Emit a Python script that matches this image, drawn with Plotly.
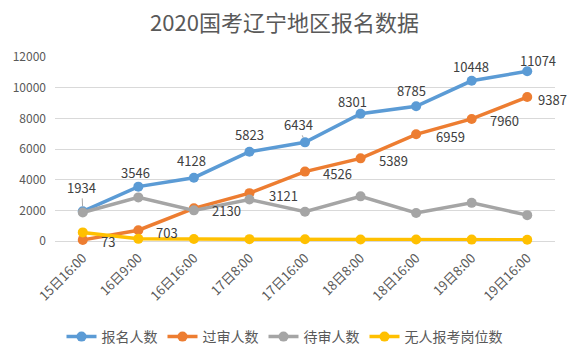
import plotly.graph_objects as go

categories = ["15日16:00", "16日9:00", "16日16:00", "17日8:00", "17日16:00",
              "18日8:00", "18日16:00", "19日8:00", "19日16:00"]
applicants = [1934, 3546, 4128, 5823, 6434, 8301, 8785, 10448, 11074]
approved = [73, 703, 2130, 3121, 4526, 5389, 6959, 7960, 9387]
pending = [1861, 2843, 1998, 2702, 1908, 2912, 1826, 2488, 1687]
no_applicant_posts = [560, 140, 130, 120, 110, 100, 95, 90, 85]

series_names = ["报名人数", "过审人数", "待审人数", "无人报考岗位数"]
colors = ["#5B9BD5", "#ED7D31", "#A5A5A5", "#FFC000"]

# label offsets (pixels) for the data labels
blue_dx = [-1, -3, -2, 0, -7, -8, -5, -1, 11]
blue_dy = [24, 14, 17, 17, 18, 12, 16, 14, 11]
orange_dx = [16, 16, 16, 18, 16, 16, 18, 16, 9]

font_family = "Noto Sans CJK SC, Microsoft YaHei, sans-serif"
label_font = dict(size=13, color="#404040", family=font_family)

fig = go.Figure()
for name, vals, col in zip(series_names,
                           [applicants, approved, pending, no_applicant_posts],
                           colors):
    fig.add_trace(go.Scatter(
        x=categories, y=vals, name=name, mode="lines+markers",
        line=dict(color=col, width=3.5), marker=dict(size=10, color=col),
        cliponaxis=False,
    ))

annotations = []
for i, (c, v) in enumerate(zip(categories, applicants)):
    if i in (0, 4):
        annotations.append(dict(
            x=c, y=v, text=str(v), showarrow=True, arrowhead=0, arrowwidth=1,
            arrowcolor="#A6A6A6", ax=blue_dx[i], ay=-blue_dy[i], standoff=5,
            font=label_font, xref="x", yref="y"))
    else:
        annotations.append(dict(
            x=c, y=v, text=str(v), showarrow=False, xshift=blue_dx[i],
            yshift=blue_dy[i], font=label_font, xref="x", yref="y"))
for i, (c, v) in enumerate(zip(categories, approved)):
    annotations.append(dict(
        x=c, y=v, text=str(v), showarrow=False, xanchor="left",
        xshift=orange_dx[i], yshift=-2, font=label_font, xref="x", yref="y"))

fig.update_layout(
    width=569, height=354,
    margin=dict(l=55, r=14, t=57, b=113, autoexpand=False),
    paper_bgcolor="white", plot_bgcolor="white",
    font=dict(family=font_family, color="#595959", size=12),
    title=dict(text="2020国考辽宁地区报名数据", x=0.5, xanchor="center",
               xref="container", yref="container",
               y=0.935, yanchor="middle",
               font=dict(size=22, color="#595959", family=font_family)),
    showlegend=True,
    legend=dict(orientation="h", x=0.5, xanchor="center", xref="container",
                y=0.048, yanchor="middle", yref="container",
                font=dict(size=14, color="#595959"), itemwidth=30),
    annotations=annotations,
    xaxis=dict(type="category", range=[-0.5, len(categories) - 0.5],
               tickangle=-45, showgrid=False, showline=False,
               ticks="", automargin=False, ticklabelstandoff=6,
               tickfont=dict(size=13, color="#595959")),
    yaxis=dict(range=[0, 12000], dtick=2000, tickformat="d", showgrid=True,
               gridcolor="#D9D9D9", gridwidth=1, zeroline=True,
               zerolinecolor="#D9D9D9", zerolinewidth=1, automargin=False,
               ticklabelstandoff=8,
               tickfont=dict(size=12, color="#595959"), ticks=""),
)

fig.write_html("out.html")
